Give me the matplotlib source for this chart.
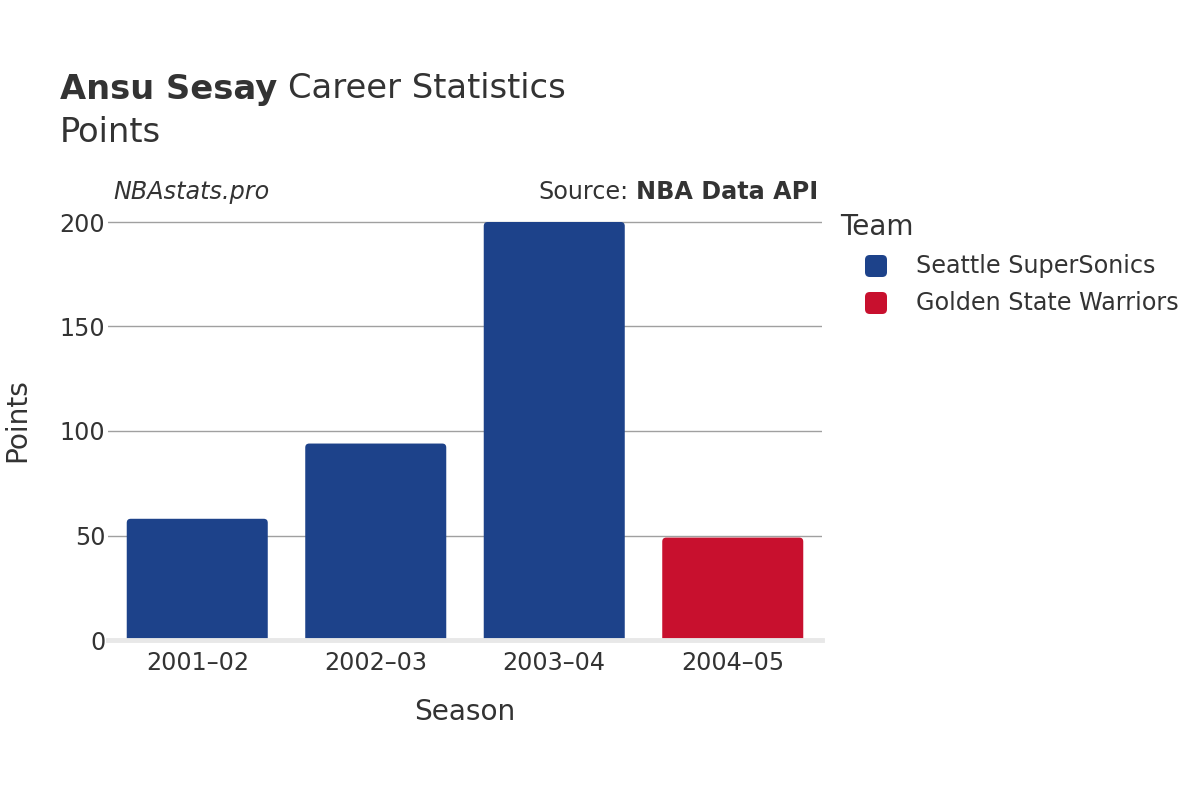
import matplotlib
matplotlib.use("Agg")
import matplotlib.pyplot as plt
from matplotlib.patches import FancyBboxPatch

seasons = ["2001\u201302", "2002\u201303", "2003\u201304", "2004\u201305"]
points = [58, 94, 200, 49]
teams = ["Seattle SuperSonics", "Seattle SuperSonics", "Seattle SuperSonics", "Golden State Warriors"]
team_colors = {"Seattle SuperSonics": "#1d428a", "Golden State Warriors": "#c8102e"}
yticks = [0, 50, 100, 150, 200]

plt.rcParams['font.family'] = ['DejaVu Sans']
txt = "#333333"

fig = plt.figure(figsize=(12, 8), dpi=100)
L, R, T, B = 108, 822, 212, 640
ax = fig.add_axes([L / 1200, 1 - B / 800, (R - L) / 1200, (B - T) / 800])
ymax = 200 * (B - T) / (640 - 222)
ax.set_xlim(-0.5, 3.5)
ax.set_ylim(0, ymax)

xpp = 4 / (R - L)
ypp = ymax / (B - T)
rad_px = 4
width = 0.79
bars = ax.bar(range(len(seasons)), points, width=width, color="none")
for b, t in zip(bars, teams):
    x0 = b.get_x()
    w = b.get_width()
    h = b.get_height()
    p = FancyBboxPatch((x0, -rad_px * ypp * 2), w, h + rad_px * ypp * 2,
                       boxstyle=f"round,pad=0,rounding_size={rad_px * xpp}",
                       mutation_aspect=ypp / xpp,
                       facecolor=team_colors[t], edgecolor="none", zorder=2)
    ax.add_patch(p)
    b.remove()

ax.set_yticks(yticks)
ax.set_yticklabels([str(v) for v in yticks])
ax.set_xticks(range(len(seasons)))
ax.set_xticklabels(seasons)
ax.grid(axis="y", color="#a0a0a0", linewidth=1, zorder=0)
ax.set_axisbelow(True)
for s in ax.spines.values():
    s.set_visible(False)
ax.tick_params(axis="both", length=0, labelsize=17.2, colors=txt)
ax.tick_params(axis="y", pad=2)
ax.tick_params(axis="x", pad=8)
ax.axhline(0, color="#e8e8e8", linewidth=3.5, zorder=3, clip_on=False)
ax.yaxis.get_gridlines()[0].set_visible(False)

fig.text(465 / 1200, 1 - 712 / 800, "Season", ha="center", va="center", fontsize=20.2, color=txt)
fig.text(17 / 1200, 1 - 420 / 800, "Points", ha="center", va="center", fontsize=20.2, color=txt, rotation=90)

t1 = fig.text(60 / 1200, 1 - 89 / 800, "Ansu Sesay", ha="left", va="center", fontsize=24.3, fontweight="bold", color=txt)
fig.canvas.draw()
bb = t1.get_window_extent()
fig.text(bb.x1 / 1200 + 0.009, 1 - 89 / 800, "Career Statistics", ha="left", va="center", fontsize=24.3, color=txt)
fig.text(60 / 1200, 1 - 133 / 800, "Points", ha="left", va="center", fontsize=24.3, color=txt)

fig.text(113 / 1200, 1 - 192 / 800, "NBAstats.pro", ha="left", va="center", fontsize=17.2, style="italic", color=txt)
s2 = fig.text(818 / 1200, 1 - 192 / 800, "NBA Data API", ha="right", va="center", fontsize=17.2, fontweight="bold", color=txt)
fig.canvas.draw()
bb2 = s2.get_window_extent()
fig.text(bb2.x0 / 1200 - 0.006, 1 - 192 / 800, "Source:", ha="right", va="center", fontsize=17.2, color=txt)

fig.text(840 / 1200, 1 - 227 / 800, "Team", ha="left", va="center", fontsize=20.2, color=txt)
legend_items = ["Seattle SuperSonics", "Golden State Warriors"]
for i, name in enumerate(legend_items):
    yc = 266 + i * 37
    sq = FancyBboxPatch(((876 - 11) / 1200, 1 - (yc + 11) / 800), 22 / 1200, 22 / 800,
                        boxstyle="round,pad=0,rounding_size=0.004", mutation_aspect=1.5,
                        transform=fig.transFigure, facecolor=team_colors[name], edgecolor="none")
    fig.patches.append(sq)
    fig.text(916 / 1200, 1 - yc / 800, name, ha="left", va="center", fontsize=17.2, color=txt)

fig.savefig("out.png", dpi=100, facecolor="white")
